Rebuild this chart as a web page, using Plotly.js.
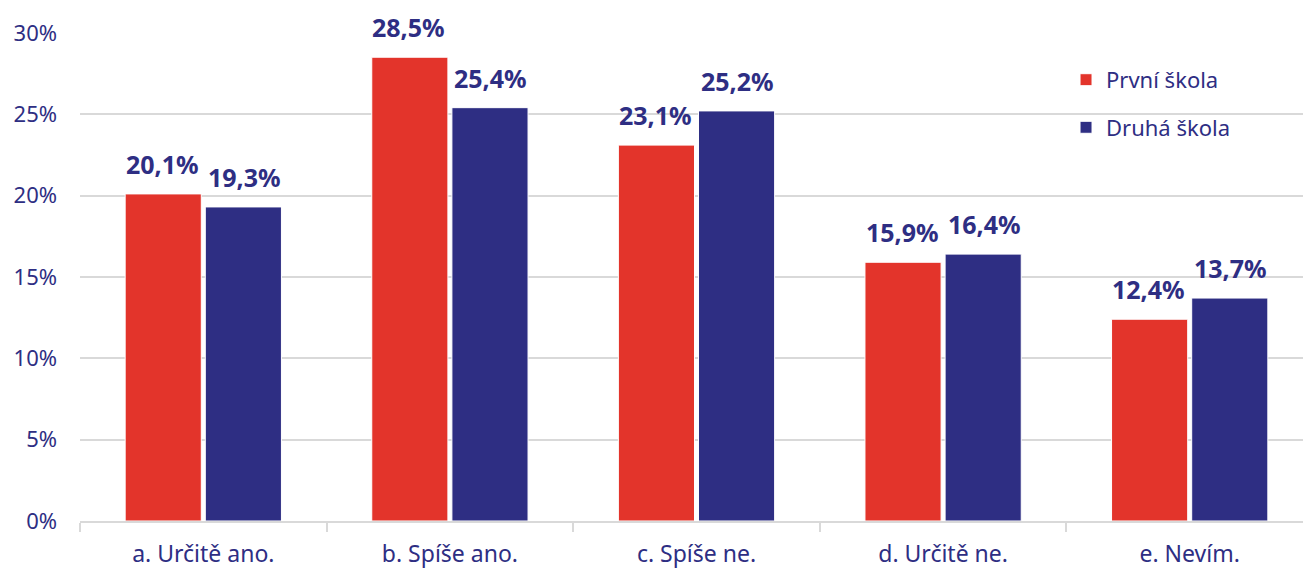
<!DOCTYPE html>
<html>
<head>
<meta charset="utf-8">
<script src="https://cdn.plot.ly/plotly-3.0.1.min.js"></script>
<style>
  body { margin: 0; overflow: hidden; background: #fff; }
</style>
</head>
<body>
<div id="chart"></div>
<script>
var categories = ["a. Určitě ano.", "b. Spíše ano.", "c. Spíše ne.", "d. Určitě ne.", "e. Nevím."];
var prvni = [20.1, 28.5, 23.1, 15.9, 12.4];
var druha = [19.3, 25.4, 25.2, 16.4, 13.7];
var yTicks = [0, 5, 10, 15, 20, 25, 30];
var yTickText = ["0%", "5%", "10%", "15%", "20%", "25%", "30%"];

var red = "#e3342b";
var navy = "#2e2e83";
var font = "Noto Sans, Open Sans, sans-serif";

var trace1 = {
    x: categories,
    y: prvni,
    type: "bar",
    name: "První škola",
    legendgroup: "a",
    marker: {color: red, line: {color: "#ffffff", width: 1}},
    hoverinfo: "none"
};

var trace2 = {
    x: categories,
    y: druha,
    type: "bar",
    name: "Druhá škola",
    legendgroup: "b",
    marker: {color: navy, line: {color: "#ffffff", width: 1}},
    hoverinfo: "none"
};

function fmt(v) {
    return v.toFixed(1).replace(".", ",") + "%";
}

// value labels above the bars, shifted to each bar of the pair
var labelFont = {family: font, size: 25, color: navy, weight: "bold"};
var annotations = [];
categories.forEach(function (c, i) {
    annotations.push({x: c, y: prvni[i], text: fmt(prvni[i]), xshift: -41, yshift: 11,
        yanchor: "bottom", showarrow: false, font: labelFont});
    annotations.push({x: c, y: druha[i], text: fmt(druha[i]), xshift: 41, yshift: 11,
        yanchor: "bottom", showarrow: false, font: labelFont});
});

var layout = {
    width: 1313,
    height: 569,
    margin: {l: 80, r: 0, t: 32, b: 48},
    paper_bgcolor: "#ffffff",
    plot_bgcolor: "#ffffff",
    font: {family: font, color: navy},
    barmode: "group",
    bargap: 0.35,
    bargroupgap: 0.05,
    showlegend: true,
    legend: {
        x: 0.7997, y: 0.945, xanchor: "left", yanchor: "top",
        font: {size: 22, color: navy},
        itemwidth: 30,
        traceorder: "grouped",
        tracegroupgap: 16,
        bgcolor: "rgba(0,0,0,0)"
    },
    xaxis: {
        type: "category",
        tickson: "boundaries",
        ticks: "outside",
        ticklen: 9,
        tickwidth: 2,
        tickcolor: "#d9d9d9",
        showline: true,
        linecolor: "#d9d9d9",
        linewidth: 2,
        showgrid: false,
        tickfont: {size: 23, color: navy},
        ticklabelstandoff: 11
    },
    yaxis: {
        range: [0, 30.05],
        tickvals: yTicks,
        ticktext: yTickText,
        showgrid: true,
        gridcolor: "#d9d9d9",
        gridwidth: 2,
        zeroline: false,
        showline: false,
        tickfont: {size: 22, color: navy},
        ticklabelstandoff: 22
    },
    annotations: annotations
};

Plotly.newPlot("chart", [trace1, trace2], layout, {displayModeBar: false, staticPlot: true});
</script>
</body>
</html>
